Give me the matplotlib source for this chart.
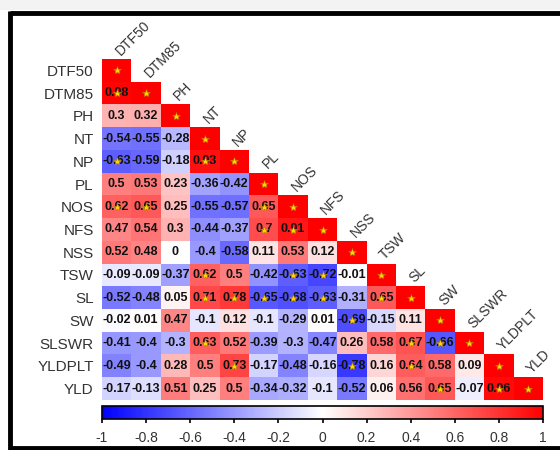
import numpy as np
import matplotlib
matplotlib.use("Agg")
import matplotlib.pyplot as plt
from matplotlib.colors import LinearSegmentedColormap
from matplotlib.patches import Rectangle
from matplotlib.lines import Line2D

plt.rcParams['font.family'] = ['Liberation Sans', 'DejaVu Sans']

variables = ["DTF50", "DTM85", "PH", "NT", "NP", "PL", "NOS", "NFS", "NSS",
             "TSW", "SL", "SW", "SLSWR", "YLDPLT", "YLD"]

# lower-triangle rows (excluding diagonal which is 1)
row_DTM85 = [0.98]
row_PH = [0.3, 0.32]
row_NT = [-0.54, -0.55, -0.28]
row_NP = [-0.63, -0.59, -0.18, 0.93]
row_PL = [0.5, 0.53, 0.23, -0.36, -0.42]
row_NOS = [0.62, 0.65, 0.25, -0.55, -0.57, 0.65]
row_NFS = [0.47, 0.54, 0.3, -0.44, -0.37, 0.7, 0.91]
row_NSS = [0.52, 0.48, 0, -0.4, -0.58, 0.11, 0.53, 0.12]
row_TSW = [-0.09, -0.09, -0.37, 0.62, 0.5, -0.42, -0.63, -0.72, -0.01]
row_SL = [-0.52, -0.48, 0.05, 0.71, 0.78, -0.65, -0.68, -0.63, -0.31, 0.65]
row_SW = [-0.02, 0.01, 0.47, -0.1, 0.12, -0.1, -0.29, 0.01, -0.69, -0.15, 0.11]
row_SLSWR = [-0.41, -0.4, -0.3, 0.63, 0.52, -0.39, -0.3, -0.47, 0.26, 0.58, 0.67, -0.66]
row_YLDPLT = [-0.49, -0.4, 0.28, 0.5, 0.73, -0.17, -0.48, -0.16, -0.78, 0.16, 0.64, 0.58, 0.09]
row_YLD = [-0.17, -0.13, 0.51, 0.25, 0.5, -0.34, -0.32, -0.1, -0.52, 0.06, 0.56, 0.65, -0.07, 0.96]

lower_rows = [[], row_DTM85, row_PH, row_NT, row_NP, row_PL, row_NOS, row_NFS, row_NSS,
              row_TSW, row_SL, row_SW, row_SLSWR, row_YLDPLT, row_YLD]
sig_threshold = 0.6
cbar_ticks = [-1, -0.8, -0.6, -0.4, -0.2, 0, 0.2, 0.4, 0.6, 0.8, 1]
cbar_ticklabels = ["-1", "-0.8", "-0.6", "-0.4", "-0.2", "0", "0.2", "0.4", "0.6", "0.8", "1"]

n = len(variables)
M = np.full((n, n), np.nan)
for i, row in enumerate(lower_rows):
    for j, v in enumerate(row):
        M[i, j] = v
    M[i, i] = 1.0

W, H = 560, 450
fig = plt.figure(figsize=(W / 100, H / 100), dpi=100)
fig.patch.set_facecolor("white")

# frame decorations
fig.add_artist(Rectangle((0, 1 - 10 / H), 1, 10 / H, transform=fig.transFigure,
                         facecolor="#f3f3f3", edgecolor="none"))
fig.add_artist(Line2D([10 / W, 1], [1 - 13 / H, 1 - 13 / H], transform=fig.transFigure,
                      color="black", lw=3.5, solid_capstyle="butt"))
fig.add_artist(Line2D([10 / W, 10 / W], [1 - 11 / H, 0], transform=fig.transFigure,
                      color="black", lw=3.5, solid_capstyle="butt"))
fig.add_artist(Line2D([10 / W, 1], [2 / H, 2 / H], transform=fig.transFigure,
                      color="black", lw=3.5, solid_capstyle="butt"))

cmap = LinearSegmentedColormap.from_list("bwr2", ["#0000ff", "#ffffff", "#ff0000"])

x0, x1 = 102, 543
y0, y1 = 59, 400
ax = fig.add_axes([x0 / W, 1 - y1 / H, (x1 - x0) / W, (y1 - y0) / H])
Mm = np.ma.masked_invalid(M)
ax.imshow(Mm, cmap=cmap, vmin=-1, vmax=1, aspect="auto", interpolation="nearest",
          extent=(-0.5, n - 0.5, n - 0.5, -0.5))
ax.set_xlim(-0.5, n - 0.5)
ax.set_ylim(n - 0.5, -0.5)
for s in ax.spines.values():
    s.set_visible(False)
ax.set_xticks([])
ax.set_yticks(range(n))
ax.set_yticklabels(variables, fontsize=11, color="#333333")
ax.tick_params(axis="y", length=0, pad=6)

for i in range(n):
    for j in range(i + 1):
        v = M[i, j]
        if i != j:
            ax.text(j, i, f"{v:g}", ha="center", va="center", fontsize=9,
                    fontweight="bold", color="#111111")
        if abs(v) > sig_threshold:
            ax.plot(j, i, marker="*", ms=6, color="#ffd400", mec="#b08000", mew=0.4, zorder=5)
    ax.text(i + 0.2, i - 0.55, variables[i], rotation=45, rotation_mode="anchor",
            ha="left", va="bottom", fontsize=10, color="#333333", clip_on=False)

cax = fig.add_axes([x0 / W, 1 - 419 / H, (x1 - x0) / W, 13 / H])
sm = matplotlib.cm.ScalarMappable(cmap=cmap, norm=matplotlib.colors.Normalize(-1, 1))
cb = fig.colorbar(sm, cax=cax, orientation="horizontal", ticks=cbar_ticks)
cb.ax.set_xticklabels(cbar_ticklabels)
cb.ax.tick_params(labelsize=10, labelcolor="#333333", length=3, width=1.2, pad=6)
cb.outline.set_linewidth(1.2)

fig.savefig("out.png", dpi=100)
